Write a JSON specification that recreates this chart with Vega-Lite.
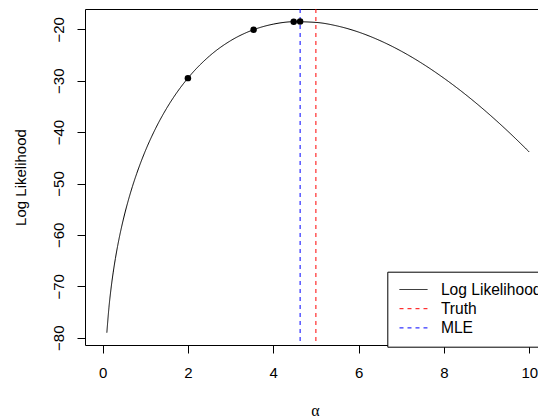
{
  "$schema": "https://vega.github.io/schema/vega-lite/v6.json",
  "width": 463,
  "height": 336,
  "autosize": {"type": "none"},
  "padding": {"left": 85, "top": 9, "right": 0, "bottom": 72},
  "background": "white",
  "datasets": {
    "curve": [
      {"alpha": 0.1, "ll": -79.02},
      {"alpha": 0.15, "ll": -74.06},
      {"alpha": 0.2, "ll": -70.31},
      {"alpha": 0.25, "ll": -67.24},
      {"alpha": 0.3, "ll": -64.61},
      {"alpha": 0.35, "ll": -62.28},
      {"alpha": 0.4, "ll": -60.19},
      {"alpha": 0.5, "ll": -56.53},
      {"alpha": 0.6, "ll": -53.37},
      {"alpha": 0.7, "ll": -50.57},
      {"alpha": 0.8, "ll": -48.07},
      {"alpha": 0.9, "ll": -45.79},
      {"alpha": 1.0, "ll": -43.70},
      {"alpha": 1.25, "ll": -39.17},
      {"alpha": 1.5, "ll": -35.39},
      {"alpha": 1.75, "ll": -32.20},
      {"alpha": 2.0, "ll": -29.50},
      {"alpha": 2.5, "ll": -25.24},
      {"alpha": 3.0, "ll": -22.22},
      {"alpha": 3.5, "ll": -20.20},
      {"alpha": 4.0, "ll": -19.00},
      {"alpha": 4.5, "ll": -18.52},
      {"alpha": 5.0, "ll": -18.66},
      {"alpha": 5.5, "ll": -19.35},
      {"alpha": 6.0, "ll": -20.54},
      {"alpha": 6.5, "ll": -22.19},
      {"alpha": 7.0, "ll": -24.25},
      {"alpha": 7.5, "ll": -26.70},
      {"alpha": 8.0, "ll": -29.51},
      {"alpha": 8.5, "ll": -32.64},
      {"alpha": 9.0, "ll": -36.09},
      {"alpha": 9.5, "ll": -39.84},
      {"alpha": 10.0, "ll": -43.86}
    ],
    "iters": [
      {"alpha": 2.0, "ll": -29.50},
      {"alpha": 3.54, "ll": -20.07},
      {"alpha": 4.48, "ll": -18.53},
      {"alpha": 4.63, "ll": -18.50}
    ],
    "vlines": [
      {"series": "Truth", "alpha": 5.0},
      {"series": "MLE", "alpha": 4.63}
    ]
  },
  "encoding": {
    "x": {
      "field": "alpha", "type": "quantitative",
      "scale": {"domain": [-0.412, 10.44], "nice": false, "zero": false},
      "axis": {
        "title": "α", "values": [0, 2, 4, 6, 8, 10], "grid": false, "domain": false,
        "tickSize": 8, "tickColor": "black", "labelPadding": 24.5, "labelBaseline": "alphabetic",
        "labelFont": "Liberation Sans", "labelFontSize": 15, "labelColor": "black", "labelOverlap": false,
        "titleFont": "Liberation Serif", "titleFontSize": 16, "titleFontWeight": "normal", "titleColor": "black",
        "titleBaseline": "alphabetic", "titleX": 230, "titleY": 70
      }
    },
    "y": {
      "field": "ll", "type": "quantitative",
      "scale": {"domain": [-81.42, -16.05], "nice": false, "zero": false},
      "axis": {
        "title": "Log Likelihood", "values": [-80, -70, -60, -50, -40, -30, -20], "grid": false, "domain": false,
        "tickSize": 8, "tickColor": "black", "labelPadding": 13.7, "labelAngle": 270,
        "labelAlign": "center", "labelBaseline": "alphabetic",
        "labelFont": "Liberation Sans", "labelFontSize": 15, "labelColor": "black", "labelOverlap": false,
        "titleFont": "Liberation Sans", "titleFontSize": 15, "titleFontWeight": "normal", "titleColor": "black",
        "titleAngle": 270, "titleAlign": "center", "titleBaseline": "alphabetic", "titleX": -59.3, "titleY": 168
      }
    }
  },
  "layer": [
    {
      "data": {"name": "curve"},
      "mark": {"type": "line", "strokeWidth": 1, "interpolate": "monotone"},
      "encoding": {
        "color": {"datum": "Log Likelihood", "type": "nominal",
          "scale": {"domain": ["Log Likelihood", "Truth", "MLE"], "range": ["black", "red", "blue"]}, "title": null},
        "strokeDash": {"datum": "Log Likelihood", "type": "nominal",
          "scale": {"domain": ["Log Likelihood", "Truth", "MLE"], "range": [[1, 0], [4, 4], [4, 4]]}, "title": null}
      }
    },
    {
      "data": {"name": "vlines"},
      "mark": {"type": "rule", "strokeWidth": 1},
      "encoding": {
        "x": {"field": "alpha", "type": "quantitative"},
        "y": null,
        "color": {"field": "series", "type": "nominal", "title": null},
        "strokeDash": {"field": "series", "type": "nominal", "title": null}
      }
    },
    {
      "data": {"name": "iters"},
      "mark": {"type": "point", "filled": true, "color": "black", "opacity": 1, "size": 42},
      "encoding": {}
    }
  ],
  "config": {
    "view": {"stroke": "black", "strokeWidth": 1},
    "legend": {
      "orient": "none", "legendX": 302.3, "legendY": 262.7,
      "symbolType": "M-1,0H4", "symbolSize": 125, "symbolStrokeWidth": 1, "symbolFillColor": "transparent",
      "labelOffset": 28, "padding": 10, "rowPadding": 2.2,
      "strokeColor": "black", "fillColor": "white", "cornerRadius": 0,
      "labelFont": "Liberation Sans", "labelFontSize": 15.6, "labelColor": "black", "labelLimit": 300
    }
  }
}
